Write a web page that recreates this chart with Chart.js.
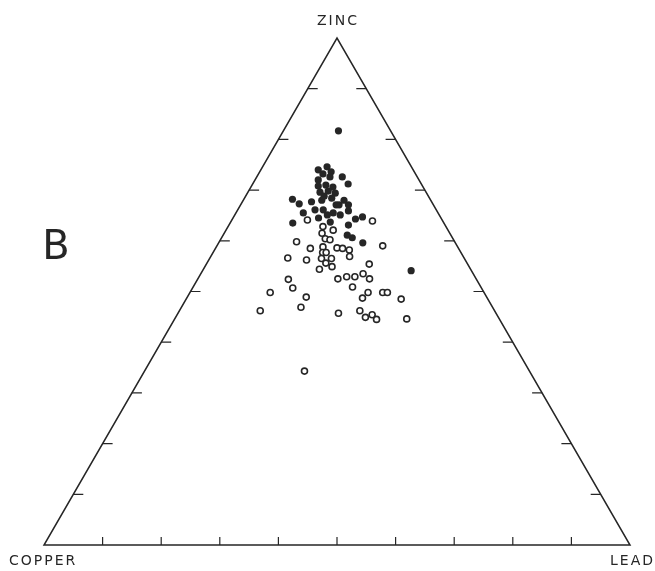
<!DOCTYPE html>
<html>
<head>
<meta charset="utf-8">
<script src="https://cdn.jsdelivr.net/npm/chart.js@4.4.1/dist/chart.umd.min.js"></script>
<style>
  html, body { margin: 0; padding: 0; background: #fff; }
  #wrap { width: 655px; height: 571px; position: relative; }
</style>
</head>
<body>
<div id="wrap"><canvas id="c" width="655" height="571"></canvas></div>
<script>
// Ternary compositions (percent); copper = 100 - zinc - lead
const ZINC_FILLED = [81.7,74.0,74.6,73.6,73.2,72.6,72.6,71.2,70.8,71.0,70.6,69.6,69.8,69.4,68.2,67.3,67.7,68.0,68.4,67.1,67.1,65.5,66.1,66.1,65.5,65.1,65.1,65.9,64.3,64.7,63.5,64.5,63.7,63.1,61.1,60.6,59.6,54.1,67.1,68.0,72.0,68.8];
const LEAD_FILLED = [9.4,9.8,11.0,12.2,11.0,12.5,14.6,16.3,11.4,12.6,14.0,12.3,13.6,15.0,8.3,9.9,11.8,13.4,14.9,16.8,18.4,11.5,13.2,14.6,16.6,18.0,15.8,19.0,21.0,22.0,10.7,14.6,17.0,20.4,21.2,22.3,24.6,35.6,16.3,17.2,10.8,13.4];

const ZINC_OPEN = [64.1,62.8,62.1,61.5,60.4,60.2,59.8,58.5,58.8,58.6,58.5,58.2,57.7,57.7,56.5,56.5,56.9,56.2,56.6,55.6,54.9,54.4,63.9,59.0,55.4,52.4,52.5,52.9,52.9,53.5,52.5,50.7,50.9,49.8,49.8,49.8,49.8,48.9,48.7,48.5,46.9,46.2,45.7,46.2,44.9,45.4,44.5,44.6,34.3];
const LEAD_OPEN = [12.9,16.2,18.3,16.7,17.8,18.7,13.2,16.2,18.2,20.7,21.7,23.0,18.7,19.3,19.1,20.8,23.7,16.7,13.3,20.3,21.7,19.8,24.1,28.3,27.8,15.5,23.9,25.2,26.6,27.7,29.3,17.1,27.2,13.7,30.4,32.9,33.7,20.3,30.0,36.7,20.4,13.8,27.4,30.8,32.4,33.3,34.5,39.6,27.3];

const TICK_VALUES = [10,20,30,40,50,60,70,80,90];
const VERTEX_LABELS = { top: 'ZINC', left: 'COPPER', right: 'LEAD' };
const PANEL_LABEL = 'B';

const H = Math.sqrt(3) / 2;
function toXY(zinc, lead) { return { x: lead + zinc / 2, y: zinc * H }; }
const filledPts = ZINC_FILLED.map((z, i) => toXY(z, LEAD_FILLED[i]));
const openPts = ZINC_OPEN.map((z, i) => toXY(z, LEAD_OPEN[i]));

const ink = '#262626';

const ternaryPlugin = {
  id: 'ternary',
  beforeDatasetsDraw(chart) {
    const { ctx, scales: { x, y } } = chart;
    const P = (dx, dy) => [x.getPixelForValue(dx), y.getPixelForValue(dy)];
    const A = P(0, 0), B = P(100, 0), C = P(50, 100 * H);
    ctx.save();
    ctx.strokeStyle = ink;
    ctx.lineWidth = 1.5;
    ctx.lineJoin = 'miter';
    ctx.beginPath();
    ctx.moveTo(A[0], A[1]); ctx.lineTo(B[0], B[1]); ctx.lineTo(C[0], C[1]); ctx.closePath();
    ctx.stroke();
    ctx.lineWidth = 1.2;
    ctx.beginPath();
    TICK_VALUES.forEach(t => {
      const b = P(t, 0);
      ctx.moveTo(b[0], b[1]); ctx.lineTo(b[0], b[1] - 8);
      const l = P(t / 2, t * H);
      ctx.moveTo(l[0], l[1]); ctx.lineTo(l[0] + 10, l[1]);
      const r = P(100 - t / 2, t * H);
      ctx.moveTo(r[0], r[1]); ctx.lineTo(r[0] - 10, r[1]);
    });
    ctx.stroke();

    ctx.fillStyle = ink;
    ctx.font = '14px "DejaVu Sans", sans-serif';
    ctx.letterSpacing = '2px';
    ctx.textBaseline = 'middle';
    ctx.textAlign = 'center';
    ctx.fillText(VERTEX_LABELS.top, C[0] + 1, 21);
    ctx.textAlign = 'left';
    ctx.fillText(VERTEX_LABELS.left, 9, 561);
    ctx.textAlign = 'right';
    ctx.fillText(VERTEX_LABELS.right, 655, 561);
    ctx.letterSpacing = '0px';
    ctx.font = '40px "DejaVu Sans", sans-serif';
    ctx.textAlign = 'center';
    ctx.fillText(PANEL_LABEL, 56, 249);
    ctx.restore();
  }
};

new Chart(document.getElementById('c'), {
  type: 'scatter',
  data: {
    datasets: [
      { label: 'filled', data: filledPts, pointRadius: 3.6, pointBackgroundColor: ink, pointBorderColor: ink, pointBorderWidth: 0 },
      { label: 'open', data: openPts, pointRadius: 3, pointBackgroundColor: '#fff', pointBorderColor: ink, pointBorderWidth: 1.6 }
    ]
  },
  options: {
    responsive: false,
    animation: false,
    layout: { padding: { left: 44, right: 25, top: 38, bottom: 26 } },
    scales: {
      x: { type: 'linear', min: 0, max: 100, display: false },
      y: { type: 'linear', min: 0, max: 100 * H, display: false }
    },
    plugins: { legend: { display: false }, tooltip: { enabled: false } }
  },
  plugins: [ternaryPlugin]
});
</script>
</body>
</html>
